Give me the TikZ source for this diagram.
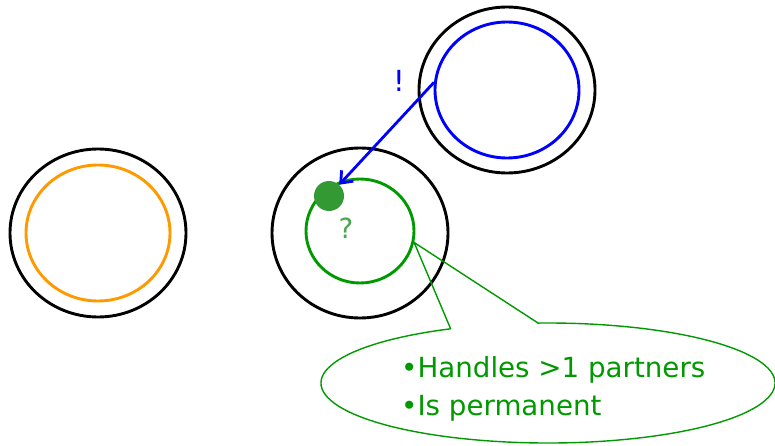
\documentclass[tikz,border=0pt]{standalone}
\usepackage{fontspec}
\setmainfont{DejaVu Sans}
\usetikzlibrary{shapes.geometric,arrows.meta}
\definecolor{orng}{HTML}{FF9900}
\definecolor{grn}{HTML}{009900}
\definecolor{dotg}{HTML}{339933}
\definecolor{qg}{HTML}{4CA64C}
\tikzset{
  ring/.style={ellipse, draw, inner sep=0pt, line width=2.9pt},
  ell/.style n args={2}{minimum width=#1pt, minimum height=#2pt},
  lbl/.style={inner sep=0pt, font=\fontsize{27.7}{32}\selectfont}
}
\begin{document}
\begin{tikzpicture}[x=1pt,y=1pt]
\useasboundingbox (0,0) rectangle (775,445);
% left
\node[ring, black, ell={176}{168}] (lo) at (98,212) {};
\node[ring, orng, ell={144}{136}] (li) at (98,212) {};
% middle
\node[ring, black, ell={176}{170}] (mo) at (360,212) {};
\node[ring, grn, ell={108}{104}] (mi) at (360,214) {};
% top right
\node[ring, black, ell={176}{166}] (to) at (507,355) {};
\node[ring, blue, ell={144}{136}] (ti) at (507,355) {};
% dot
\node[circle, fill=dotg, minimum size=30pt, inner sep=0pt] (dot) at (329,249) {};
% labels
\node[lbl, text=qg] (q) at (346,217) {?};
\node[lbl, text=blue, font=\fontsize{29}{32}\selectfont] (ex) at (399,364) {!};
% arrow
\draw[blue, line width=2.8pt, -{Straight Barb[length=10pt,width=16pt,line width=2.8pt]}] (ti.174) -- (dot.48);
% callout
\coordinate (tip) at (mi.-12);
\draw[grn, line width=1.4pt] (548,62) ++(115.4:227 and 60) coordinate (cs)
  arc[start angle=115.4, end angle=452.5, x radius=227, y radius=60] -- (tip) -- (cs);
\node[lbl, text=grn, anchor=base west] (t1) at (401,68) {•Handles >1 partners};
\node[lbl, text=grn, anchor=base west] (t2) at (401,30) {•Is permanent};
\end{tikzpicture}
\end{document}
